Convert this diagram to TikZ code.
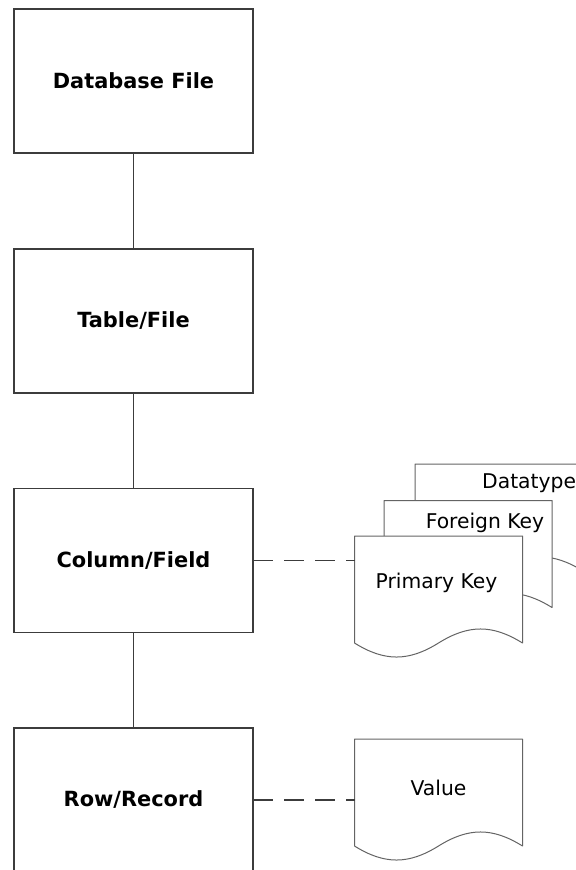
\documentclass[tikz,border=0pt]{standalone}
\usepackage{fontspec}
\setmainfont{DejaVu Sans}
\usetikzlibrary{calc}
\definecolor{boxline}{RGB}{60,60,60}
\definecolor{docline}{RGB}{100,100,100}
\tikzset{
 levelbox/.style={draw=boxline, line width=1.6bp, fill=white, minimum width=239bp, minimum height=144bp, inner sep=0pt, outer sep=0pt, font=\fontsize{20.9bp}{24bp}\selectfont\bfseries},
 docarea/.style={minimum width=168bp, minimum height=107bp, inner sep=0pt, outer sep=0pt},
 docshape/.style={draw=docline, line width=1bp, fill=white, line join=round},
 doctext/.style={font=\fontsize{20.3bp}{24bp}\selectfont, inner sep=0pt, anchor=base},
 link/.style={draw=boxline, line width=1.6bp},
 dashlink/.style={link, dash pattern=on 20bp off 11bp},
}
\newcommand{\docdraw}[1]{\path[docshape] (#1.south west) -- (#1.north west) -- (#1.north east) -- (#1.south east) .. controls +(-30,-18.7) and +(30,-18.7) .. (#1.south) .. controls +(-30,18.7) and +(30,18.7) .. (#1.south west) -- cycle;}
\begin{document}
\begin{tikzpicture}[x=1bp,y=-1bp]
\useasboundingbox (0,0) rectangle (576,870);
\clip (0,0) rectangle (576,870);
\fill[white] (0,0) rectangle (576,870);
% level boxes
\node[levelbox] (db) at (133.5,81) {Database File};
\node[levelbox] (tf) at (133.5,321) {Table/File};
\node[levelbox] (cf) at (133.5,560.5) {Column/Field};
\node[levelbox] (rr) at (133.5,800) {Row/Record};
\draw[link] (db.south) -- (tf.north);
\draw[link] (tf.south) -- (cf.north);
\draw[link] (cf.south) -- (rr.north);
% documents
\node[docarea] (dt) at (499,517.5) {};
\docdraw{dt}
\node[doctext, anchor=base west] (dtt) at (482,488) {Datatype};
\node[docarea] (fk) at (468,554) {};
\docdraw{fk}
\node[doctext] (fkt) at (485,528) {Foreign Key};
\node[docarea] (pk) at (438.5,589.5) {};
\docdraw{pk}
\node[doctext] (pkt) at (436.5,588) {Primary Key};
\node[docarea] (val) at (438.5,792.5) {};
\docdraw{val}
\node[doctext] (valt) at (438.5,795) {Value};
% dashed links
\draw[dashlink] (cf.east) -- (cf.east -| pk.west);
\draw[dashlink] (rr.east) -- (rr.east -| val.west);
\end{tikzpicture}
\end{document}
